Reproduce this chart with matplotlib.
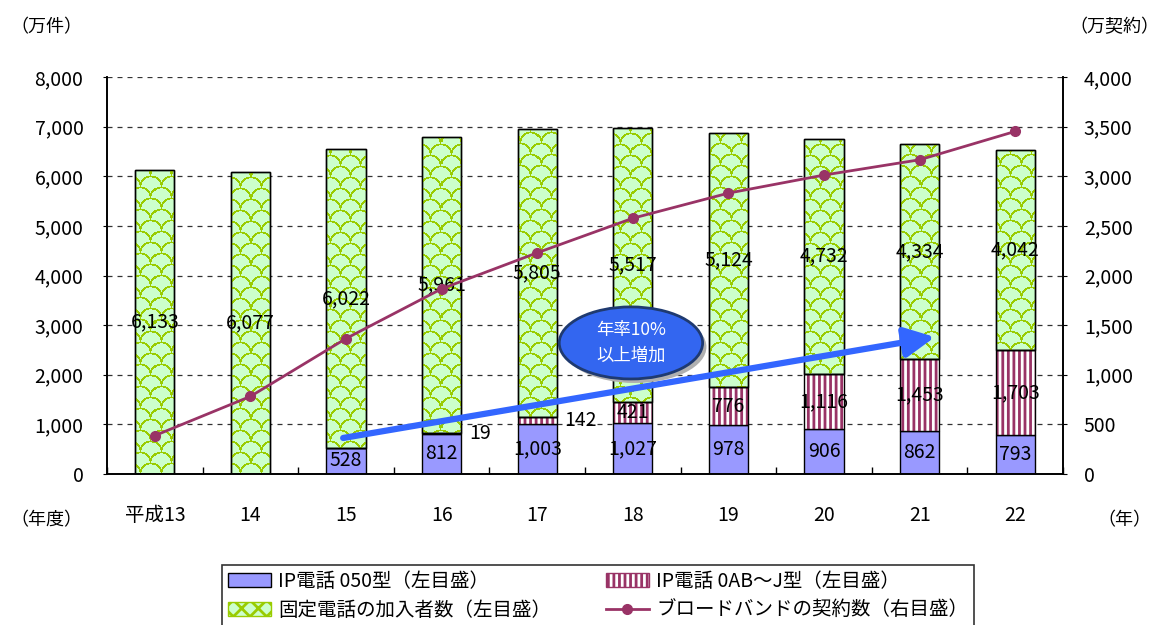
import numpy as np
import matplotlib
matplotlib.use('Agg')
import matplotlib.pyplot as plt
from matplotlib.patches import Patch, Ellipse
from matplotlib.lines import Line2D
from matplotlib.ticker import FuncFormatter

plt.rcParams['font.family'] = ['Noto Sans CJK JP', 'DejaVu Sans']
plt.rcParams['hatch.linewidth'] = 2.0

# 年度別の加入者数（万件）と契約数（万契約）
years = ['平成13', '14', '15', '16', '17', '18', '19', '20', '21', '22']
ip050 = [0, 0, 528, 812, 1003, 1027, 978, 906, 862, 793]
ip0abj = [0, 0, 0, 19, 142, 421, 776, 1116, 1453, 1703]
fixed = [6133, 6077, 6022, 5961, 5805, 5517, 5124, 4732, 4334, 4042]
broadband = [387, 782, 1365, 1866, 2229, 2577, 2830, 3012, 3166, 3452]

c_blue = '#9999FF'
c_stripe = '#993366'
c_green = '#CCFFCC'
c_green_line = '#99CC00'
c_line = '#993366'

fig = plt.figure(figsize=(11.61, 6.25), dpi=100)
ax = fig.add_axes([0.0922, 0.2416, 0.8234, 0.6352])
ax2 = ax.twinx()

x = np.arange(len(years))
w = 0.41
ip050 = np.array(ip050)
ip0abj = np.array(ip0abj)
fixed = np.array(fixed)
base2 = ip050 + ip0abj

ax.set_xlim(-0.5, len(years) - 0.5)
ax.set_ylim(0, 8000)

ax.bar(x, ip050, w, color=c_blue, edgecolor='black', linewidth=1, zorder=2)
ax.bar(x, ip0abj, w, bottom=ip050, color='white', edgecolor=c_stripe,
       hatch='|||', linewidth=0, zorder=2)
ax.bar(x, ip0abj, w, bottom=ip050, fill=False, edgecolor='black',
       linewidth=1, zorder=2.3)
green = ax.bar(x, fixed, w, bottom=base2, color=c_green, edgecolor='black',
               linewidth=1, zorder=2)
ax.bar(x, fixed, w, bottom=base2, fill=False, edgecolor='black',
       linewidth=1, zorder=2.3)


def scale_mask(width, height, r=10, dy=11, lw=0.85):
    """うろこ模様のマスク（ピクセル単位）"""
    m = np.zeros((height, width), dtype=bool)
    yy, xx = np.mgrid[0:height, 0:width]
    for j in range(-2, height // dy + 3):
        cy = j * dy
        off = (r if j % 2 else 0)
        for cx in range(-2 * r + off, width + 2 * r, 2 * r):
            d = np.hypot(xx - cx, yy - cy)
            m[d < r - lw] = False
            m[np.abs(d - r) <= lw] = True
    return m


# 固定電話の棒にうろこ模様を重ねる
fw, fh = fig.canvas.get_width_height()
pattern = scale_mask(fw, fh)[::-1]  # 下から数えるピクセル行

for rect in green:
    x0d, y0d = rect.get_x(), rect.get_y()
    x1d, y1d = x0d + rect.get_width(), y0d + rect.get_height()
    (px0, py0), (px1, py1) = ax.transData.transform([(x0d, y0d), (x1d, y1d)])
    i0, i1 = int(round(px0)), int(round(px1))
    j0, j1 = int(round(py0)), int(round(py1))
    mask = pattern[j0:j1, i0:i1][::-1]
    rgba = np.zeros(mask.shape + (4,))
    rgba[mask] = (0.6, 0.8, 0.0, 1.0)
    im = ax.imshow(rgba, extent=(x0d, x1d, y0d, y1d), aspect='auto',
                   interpolation='nearest', zorder=2.1)
    im.set_clip_path(rect)

ax.set_xlim(-0.5, len(years) - 0.5)
ax.set_ylim(0, 8000)

# 数値ラベル
fs = 14
for i in range(len(years)):
    if ip050[i] > 0:
        ax.text(x[i], ip050[i] / 2, f'{ip050[i]:,}', ha='center', va='center',
                fontsize=fs, zorder=3)
    if ip0abj[i] > 0:
        if ip0abj[i] < 300:
            ax.text(x[i] + w / 2 + 0.08, ip050[i] + ip0abj[i] / 2,
                    f'{ip0abj[i]:,}', ha='left', va='center', fontsize=fs, zorder=3)
        else:
            ax.text(x[i], ip050[i] + ip0abj[i] / 2, f'{ip0abj[i]:,}',
                    ha='center', va='center', fontsize=fs, zorder=3)
    ax.text(x[i], base2[i] + fixed[i] / 2, f'{fixed[i]:,}', ha='center',
            va='center', fontsize=fs, zorder=3)

ax2.plot(x, broadband, color=c_line, linewidth=2, marker='o', markersize=7,
         zorder=5)
ax2.set_ylim(0, 4000)
ax2.set_yticks(np.arange(0, 4001, 500))

fmt = FuncFormatter(lambda v, p: f'{int(v):,}')
ax.set_yticks(np.arange(0, 8001, 1000))
ax.yaxis.set_major_formatter(fmt)
ax2.yaxis.set_major_formatter(fmt)

ax.set_xticks(x)
ax.set_xticklabels(years)
ax.set_xticks(np.arange(-0.5, len(years)), minor=True)
ax.tick_params(axis='x', which='major', length=0, pad=22, labelsize=fs)
ax.tick_params(axis='x', which='minor', direction='in', length=5, width=1)
ax.tick_params(axis='y', length=3, pad=14, labelsize=fs)
ax2.tick_params(axis='y', length=3, pad=12, labelsize=fs)

ax.grid(axis='y', linestyle=(0, (4, 4)), color='#333333', linewidth=0.9)
ax.set_axisbelow(True)
for a in (ax, ax2):
    a.spines['top'].set_visible(False)
    for s in ('left', 'right', 'bottom'):
        a.spines[s].set_linewidth(1.2)

# 増加傾向の矢印と吹き出し
ax.annotate('', xy=(8.16, 2760), xytext=(1.97, 726),
            arrowprops=dict(arrowstyle='-|>,head_length=0.9,head_width=0.45',
                            color='#3366FF', lw=4.5, mutation_scale=20,
                            shrinkA=0, shrinkB=0), zorder=4)
ax.add_patch(Ellipse((5.02, 2560), 1.50, 1452, facecolor='#B0B0B0',
                     edgecolor='none', zorder=4.5))
ax.add_patch(Ellipse((4.98, 2641), 1.50, 1452, facecolor='#3366F0',
                     edgecolor='#1F3A70', linewidth=2, zorder=5))
ax.text(4.98, 2641, '年率10%\n以上増加', ha='center', va='center', color='white',
        fontsize=12.5, linespacing=1.5, zorder=6)

# 単位
fig.text(10 / 1161, 1 - 27 / 625, '（万件）', ha='left', va='center', fontsize=13)
fig.text(1 - 2 / 1161, 1 - 27 / 625, '（万契約）', ha='right', va='center', fontsize=13)
fig.text(10 / 1161, 1 - 520 / 625, '（年度）', ha='left', va='center', fontsize=13)
fig.text(1 - 10 / 1161, 1 - 520 / 625, '（年）', ha='right', va='center', fontsize=13)

handles = [
    Patch(facecolor=c_blue, edgecolor='black', label='IP電話 050型（左目盛）'),
    Patch(facecolor=c_green, edgecolor=c_green_line, hatch='xx',
          label='固定電話の加入者数（左目盛）'),
    Patch(facecolor='white', edgecolor=c_stripe, hatch='|||',
          label='IP電話 0AB～J型（左目盛）'),
    Line2D([], [], color=c_line, linewidth=2, marker='o', markersize=7,
           label='ブロードバンドの契約数（右目盛）'),
]
leg = fig.legend(handles=handles, ncol=2, loc='upper left',
                 bbox_to_anchor=(222 / 1161, 1 - 565 / 625), fontsize=14,
                 frameon=True, fancybox=False, edgecolor='black',
                 handlelength=2.2, handletextpad=0.4, columnspacing=2.8,
                 labelspacing=0.42, borderpad=0.3, borderaxespad=0)
leg.get_frame().set_linewidth(1.2)

fig.savefig('out.png', dpi=100)
